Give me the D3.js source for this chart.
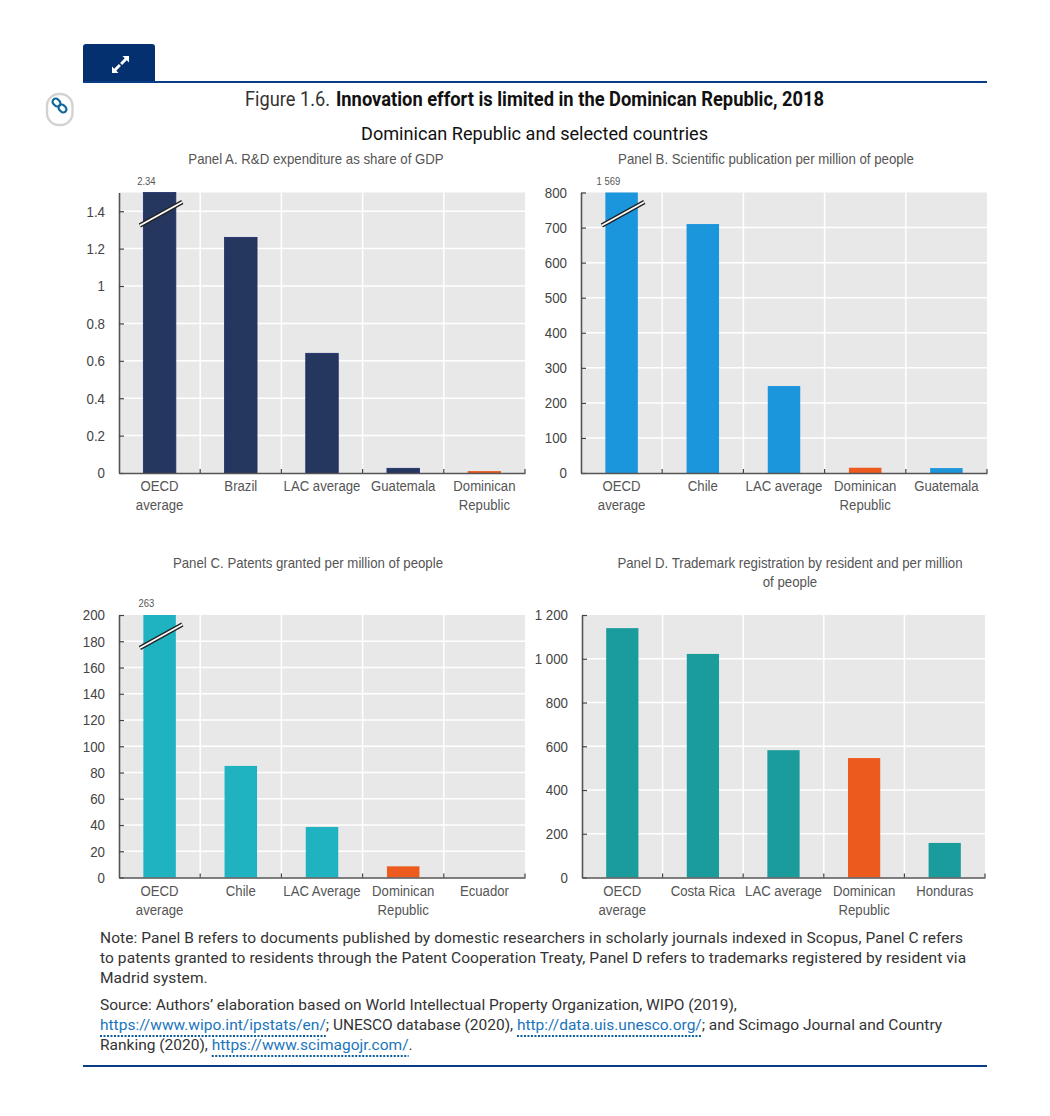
<!DOCTYPE html>
<html>
<head>
    <meta charset="utf-8">
    <script src="https://d3js.org/d3.v7.min.js"></script>
    <style>
        html, body { margin: 0; padding: 0; background: #fff; overflow: hidden; }
        svg { display: block; }
    </style>
</head>
<body>
    <div id="chart"></div>
    <script>
        //data
        var categoriesA = ["OECD average", "Brazil", "LAC average", "Guatemala", "Dominican Republic"];
        var valuesA = [2.34, 1.26, 0.64, 0.025, 0.008];
        var ticksA = [0, 0.2, 0.4, 0.6, 0.8, 1, 1.2, 1.4];

        var categoriesB = ["OECD average", "Chile", "LAC average", "Dominican Republic", "Guatemala"];
        var valuesB = [1569, 710, 248, 15, 14];
        var ticksB = [0, 100, 200, 300, 400, 500, 600, 700, 800];

        var categoriesC = ["OECD average", "Chile", "LAC Average", "Dominican Republic", "Ecuador"];
        var valuesC = [263, 85, 38.5, 8.5, 0];
        var ticksC = [0, 20, 40, 60, 80, 100, 120, 140, 160, 180, 200];

        var categoriesD = ["OECD average", "Costa Rica", "LAC average", "Dominican Republic", "Honduras"];
        var valuesD = [1140, 1022, 582, 546, 158];
        var ticksD = [0, 200, 400, 600, 800, 1000, 1200];

        var twoLineLabels = ["OECD average", "Dominican Republic"];
        var highlight = "Dominican Republic";
        var orange = "#ec5a1e";

        var noteLines = [
            "Note: Panel B refers to documents published by domestic researchers in scholarly journals indexed in Scopus, Panel C refers",
            "to patents granted to residents through the Patent Cooperation Treaty, Panel D refers to trademarks registered by resident via",
            "Madrid system."
        ];

        var width = 1050, height = 1116;

        var svg = d3.select("#chart")
            .append("svg")
            .attr("width", width)
            .attr("height", height);

        var numberFormat = d3.formatLocale({ decimal: ".", thousands: " ", grouping: [3], currency: ["", ""] }).format(",~f");

        var chartFont = "'Liberation Sans', Arial, sans-serif";
        var textFont = "Roboto, sans-serif";

        //the chart text in the picture is squeezed sideways
        function squeeze(cx, k) {
            return "translate(" + cx + ",0) scale(" + k + ",1) translate(" + (-cx) + ",0)";
        }

        function drawPanel(cfg) {
            var x = d3.scaleBand()
                .domain(cfg.categories)
                .range([cfg.left, cfg.right])
                .paddingInner(0.6)
                .paddingOuter(0.3);

            var y = d3.scaleLinear()
                .domain([0, cfg.max])
                .range([cfg.bottom, cfg.top])
                .clamp(true);

            var g = svg.append("g");

            g.append("rect")
                .attr("x", cfg.left)
                .attr("y", cfg.top)
                .attr("width", cfg.right - cfg.left)
                .attr("height", cfg.bottom - cfg.top)
                .attr("fill", "#e8e8e8");

            //white grid, horizontal on the ticks and vertical between the categories
            g.selectAll(".hgrid")
                .data(cfg.ticks.filter(function (d) { return d > 0 && d < cfg.max; }))
                .join("line")
                .attr("x1", cfg.left)
                .attr("x2", cfg.right)
                .attr("y1", function (d) { return y(d); })
                .attr("y2", function (d) { return y(d); })
                .attr("stroke", "#fff")
                .attr("stroke-width", 1.5);

            var boundaries = cfg.categories.map(function (c) {
                return x(c) + x.bandwidth() / 2 + x.step() / 2;
            });

            g.selectAll(".vgrid")
                .data(boundaries.slice(0, -1))
                .join("line")
                .attr("x1", function (d) { return d; })
                .attr("x2", function (d) { return d; })
                .attr("y1", cfg.top)
                .attr("y2", cfg.bottom)
                .attr("stroke", "#fff")
                .attr("stroke-width", 1.5);

            g.selectAll(".bar")
                .data(cfg.values)
                .join("rect")
                .attr("x", function (d, i) { return x(cfg.categories[i]); })
                .attr("y", function (d) { return y(d); })
                .attr("width", x.bandwidth())
                .attr("height", function (d) { return cfg.bottom - y(d); })
                .attr("fill", function (d, i) { return cfg.categories[i] === highlight ? orange : cfg.color; })
                .attr("stroke", function (d, i) { return cfg.categories[i] === highlight ? orange : (cfg.barStroke || "none"); })
                .attr("stroke-width", cfg.barStroke ? 0.8 : 0);

            //y axis, ticks go inwards
            var yAxis = g.append("g")
                .attr("transform", "translate(" + cfg.left + ",0)")
                .call(d3.axisLeft(y)
                    .tickValues(cfg.ticks)
                    .tickFormat(numberFormat)
                    .tickSizeInner(-5)
                    .tickSizeOuter(0)
                    .tickPadding(14));
            yAxis.select(".domain").attr("stroke", "#555").attr("stroke-width", 1.6);
            yAxis.selectAll(".tick line").attr("stroke", "#444").attr("stroke-width", 1.2);
            yAxis.selectAll(".tick text")
                .attr("fill", "#444")
                .attr("transform", squeeze(-14, 0.86))
                .style("font-family", chartFont)
                .style("font-size", "15.5px");

            //x axis
            var xAxis = g.append("g")
                .attr("transform", "translate(0," + cfg.bottom + ")")
                .call(d3.axisBottom(x).tickSize(0).tickPadding(8));
            xAxis.select(".domain").attr("stroke", "#555").attr("stroke-width", 1.6);
            xAxis.selectAll(".tick text").remove();

            xAxis.selectAll(".tick")
                .append("text")
                .attr("fill", "#555")
                .attr("text-anchor", "middle")
                .attr("transform", "scale(0.89,1)")
                .style("font-family", chartFont)
                .style("font-size", "14.8px")
                .each(function (d) {
                    var lines = twoLineLabels.indexOf(d) >= 0 ? d.split(" ") : [d];
                    d3.select(this).selectAll("tspan")
                        .data(lines)
                        .join("tspan")
                        .attr("x", 0)
                        .attr("y", function (l, i) { return 18.5 + i * 19; })
                        .text(function (l) { return l; });
                });

            g.selectAll(".xtick")
                .data(boundaries)
                .join("line")
                .attr("x1", function (d) { return d; })
                .attr("x2", function (d) { return d; })
                .attr("y1", cfg.bottom)
                .attr("y2", cfg.bottom - 4)
                .attr("stroke", "#444")
                .attr("stroke-width", 1.2);

            //break mark on the bar that runs off the scale
            if (cfg.values[0] > cfg.max) {
                var bx = x(cfg.categories[0]);
                var bw = x.bandwidth();
                var x1 = bx - 3.5, x2 = bx + bw + 6.5;
                var y1 = cfg.top + 33, y2 = cfg.top + 9.5;
                g.append("line")
                    .attr("x1", x1).attr("x2", x2).attr("y1", y1).attr("y2", y2)
                    .attr("stroke", "#222").attr("stroke-width", 4.4);
                g.append("line")
                    .attr("x1", x1).attr("x2", x2).attr("y1", y1).attr("y2", y2)
                    .attr("stroke", "#fff").attr("stroke-width", 1.8);

                var labelX = bx + 3;
                g.append("text")
                    .attr("x", labelX)
                    .attr("y", cfg.top - 7.5)
                    .attr("text-anchor", "middle")
                    .attr("fill", "#555")
                    .attr("transform", squeeze(labelX, 0.9))
                    .style("font-family", chartFont)
                    .style("font-size", "10.5px")
                    .text(numberFormat(cfg.values[0]));
            }

            //panel title
            g.selectAll(".ptitle")
                .data(cfg.title)
                .join("text")
                .attr("x", cfg.titleX)
                .attr("y", function (d, i) { return cfg.titleY + i * 19; })
                .attr("text-anchor", "middle")
                .attr("fill", "#555")
                .attr("transform", squeeze(cfg.titleX, 0.92))
                .style("font-family", chartFont)
                .style("font-size", "14.4px")
                .text(function (d) { return d; });
        }

        drawPanel({
            categories: categoriesA, values: valuesA, ticks: ticksA, max: 1.5,
            left: 119, right: 525, top: 192.5, bottom: 473,
            color: "#26375f", barStroke: "#1c2a6e",
            title: ["Panel A. R&D expenditure as share of GDP"], titleX: 316, titleY: 164
        });
        drawPanel({
            categories: categoriesB, values: valuesB, ticks: ticksB, max: 800,
            left: 581, right: 987, top: 192.5, bottom: 473,
            color: "#1b95dc",
            title: ["Panel B. Scientific publication per million of people"], titleX: 766, titleY: 164
        });
        drawPanel({
            categories: categoriesC, values: valuesC, ticks: ticksC, max: 200,
            left: 119, right: 525, top: 615, bottom: 877.5,
            color: "#1fb3c1",
            title: ["Panel C. Patents granted per million of people"], titleX: 308, titleY: 568
        });
        drawPanel({
            categories: categoriesD, values: valuesD, ticks: ticksD, max: 1200,
            left: 582, right: 985, top: 615, bottom: 877.5,
            color: "#1a9b9c",
            title: ["Panel D. Trademark registration by resident and per million", "of people"], titleX: 790, titleY: 568
        });

        //page furniture around the chart
        var navy = "#04306f";
        svg.append("path")
            .attr("d", "M83,82V47a3,3 0 0 1 3,-3H152a3,3 0 0 1 3,3V82Z")
            .attr("fill", navy);
        svg.append("rect").attr("x", 83).attr("y", 81).attr("width", 904).attr("height", 2).attr("fill", "#0b3c86");
        svg.append("rect").attr("x", 83).attr("y", 1065).attr("width", 904).attr("height", 2).attr("fill", "#0b3c86");

        //expand icon
        var icon = svg.append("g").attr("transform", "translate(120.5,64.5)");
        icon.append("path")
            .attr("d", "M2,-8.5H8.5V-2L6.3,-4.2L1.6,0.4L-0.4,-1.6L4.2,-6.3Z M-2,8.5H-8.5V2L-6.3,4.2L-1.6,-0.4L0.4,1.6L-4.2,6.3Z")
            .attr("fill", "#fff");

        //permalink button
        svg.append("rect")
            .attr("x", 47).attr("y", 94).attr("width", 25.5).attr("height", 31).attr("rx", 12)
            .attr("fill", "#fff").attr("stroke", "#d2d2d2").attr("stroke-width", 2.4);
        var link = svg.append("g").attr("transform", "translate(59.5,105.5) rotate(45)")
            .attr("fill", "none").attr("stroke", "#11689a").attr("stroke-width", 2.2);
        link.append("rect").attr("x", -8.5).attr("y", -3.2).attr("width", 8.5).attr("height", 6.4).attr("rx", 3.2);
        link.append("rect").attr("x", 0).attr("y", -3.2).attr("width", 8.5).attr("height", 6.4).attr("rx", 3.2);

        //titles, two pieces so each one can be fitted on its own
        svg.append("text")
            .attr("x", 245)
            .attr("y", 105.5)
            .attr("fill", "#333")
            .attr("textLength", 85)
            .attr("lengthAdjust", "spacingAndGlyphs")
            .style("font-family", textFont)
            .style("font-size", "20.5px")
            .text("Figure 1.6.");
        svg.append("text")
            .attr("x", 336)
            .attr("y", 105.5)
            .attr("fill", "#111")
            .attr("textLength", 488)
            .attr("lengthAdjust", "spacingAndGlyphs")
            .style("font-family", textFont)
            .style("font-size", "20.5px")
            .style("font-weight", 700)
            .text("Innovation effort is limited in the Dominican Republic, 2018");

        svg.append("text")
            .attr("x", 534.5)
            .attr("y", 140)
            .attr("text-anchor", "middle")
            .attr("fill", "#111")
            .attr("textLength", 347)
            .attr("lengthAdjust", "spacingAndGlyphs")
            .style("font-family", textFont)
            .style("font-size", "19px")
            .text("Dominican Republic and selected countries");

        //notes
        var noteX = 100;
        svg.selectAll(".note")
            .data(noteLines)
            .join("text")
            .attr("x", noteX)
            .attr("y", function (d, i) { return 943 + i * 20; })
            .attr("fill", "#333")
            .style("font-family", textFont)
            .style("font-size", "15.5px")
            .style("letter-spacing", "0.08px")
            .text(function (d) { return d; });

        var blue = "#1a75bc";
        var sourceLines = [
            [["Source: Authors\u2019 elaboration based on World Intellectual Property Organization, WIPO (2019),", false]],
            [["https://www.wipo.int/ipstats/en/", true], ["; UNESCO database (2020), ", false], ["http://data.uis.unesco.org/", true], ["; and Scimago Journal and Country", false]],
            [["Ranking (2020), ", false], ["https://www.scimagojr.com/", true], [".", false]]
        ];

        sourceLines.forEach(function (parts, i) {
            var lineY = 1010 + i * 20;
            var t = svg.append("text")
                .attr("x", noteX)
                .attr("y", lineY)
                .style("font-family", textFont)
                .style("font-size", "15.5px");
            parts.forEach(function (p) {
                t.append("tspan")
                    .attr("fill", p[1] ? blue : "#333")
                    .style("white-space", "pre")
                    .text(p[0]);
            });
            //dotted rule under each link, measured from the text itself
            var node = t.node();
            var pos = 0;
            parts.forEach(function (p) {
                var start = node.getSubStringLength(0, pos);
                var len = node.getSubStringLength(pos, p[0].length);
                if (p[1]) {
                    svg.append("line")
                        .attr("x1", noteX + start)
                        .attr("x2", noteX + start + len)
                        .attr("y1", lineY + 6)
                        .attr("y2", lineY + 6)
                        .attr("stroke", "#0b5d9b")
                        .attr("stroke-width", 2)
                        .attr("stroke-dasharray", "2 1.5");
                }
                pos += p[0].length;
            });
        });
    </script>
</body>
</html>
